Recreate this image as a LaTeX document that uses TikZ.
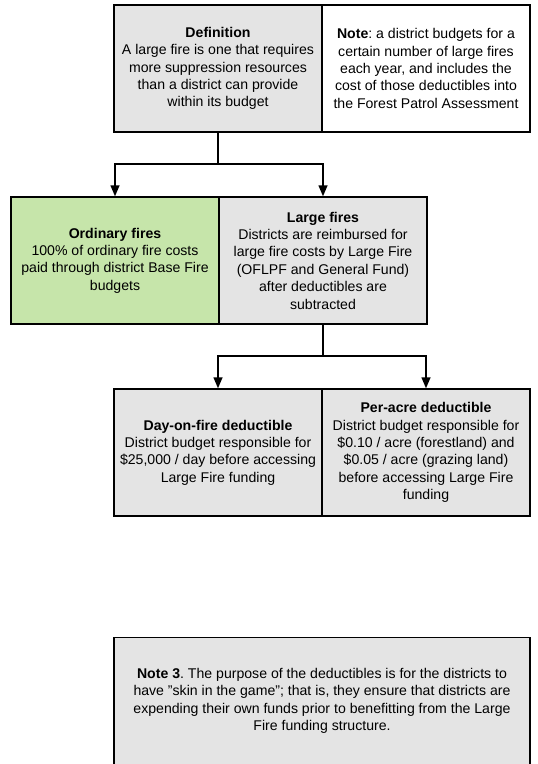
\documentclass[tikz,border=0pt]{standalone}
\usepackage{fontspec}
\setmainfont{Liberation Sans}
\usepackage{xcolor}
\usetikzlibrary{arrows.meta}
\definecolor{boxgrey}{RGB}{228,228,228}
\definecolor{firegreen}{RGB}{198,229,170}
\frenchspacing

\begin{document}
\begin{tikzpicture}[x=1pt,y=-1pt,
	box/.style={draw, line width=1.5pt, fill=boxgrey, align=center, inner sep=0pt,
		minimum width=208pt, minimum height=127pt, font=\fontsize{14.1}{17.4}\selectfont},
	link/.style={line width=1.5pt, -{Triangle[length=11pt,width=9pt]}}]
						\useasboundingbox (0,0) rectangle (538,764);
						\clip (0,0) rectangle (538,764);
						
						\node[box] (definition) at (218,68.5) {\textbf{Definition}\\A large fire is one that requires\\more suppression resources\\than a district can provide\\within its budget};
						\node[box, fill=white] (note) at (426,68.5) {\textbf{Note}: a district budgets for a\\certain number of large fires\\each year, and includes the\\cost of those deductibles into\\the Forest Patrol Assessment};
						
						\node[box, fill=firegreen] (ordinary) at (115,260.5) {\textbf{Ordinary fires}\\100\% of ordinary fire costs\\paid through district Base Fire\\budgets};
						\node[box] (large) at (323,260.5) {\textbf{Large fires}\\Districts are reimbursed for\\large fire costs by Large Fire\\(OFLPF and General Fund)\\after deductibles are\\subtracted};
						
						\node[box] (dayfire) at (218,452.5) {\textbf{Day-on-fire deductible}\\District budget responsible for\\\$25,000 / day before accessing\\Large Fire funding};
						\node[box] (peracre) at (426,452.5) {\textbf{Per-acre deductible}\\District budget responsible for\\\$0.10 / acre (forestland) and\\\$0.05 / acre (grazing land)\\before accessing Large Fire\\funding};
						
						\node[box, minimum width=416pt] (note3) at (322,701) {\textbf{Note 3}. The purpose of the deductibles is for the districts to\\have "skin in the game"; that is, they ensure that districts are\\expending their own funds prior to benefitting from the Large\\Fire funding structure.};
						
						\coordinate (split1) at (218,164);
						\coordinate (split2) at (323,356);
						
						\draw[line width=1.5pt] (definition.south) -- (split1);
						\draw[link] (split1) -| (ordinary.north);
						\draw[link] (split1) -| (large.north);
						
						\draw[line width=1.5pt] (large.south) -- (split2);
						\draw[link] (split2) -| (dayfire.north);
						\draw[link] (split2) -| (peracre.north);
					\end{tikzpicture}
\end{document}
